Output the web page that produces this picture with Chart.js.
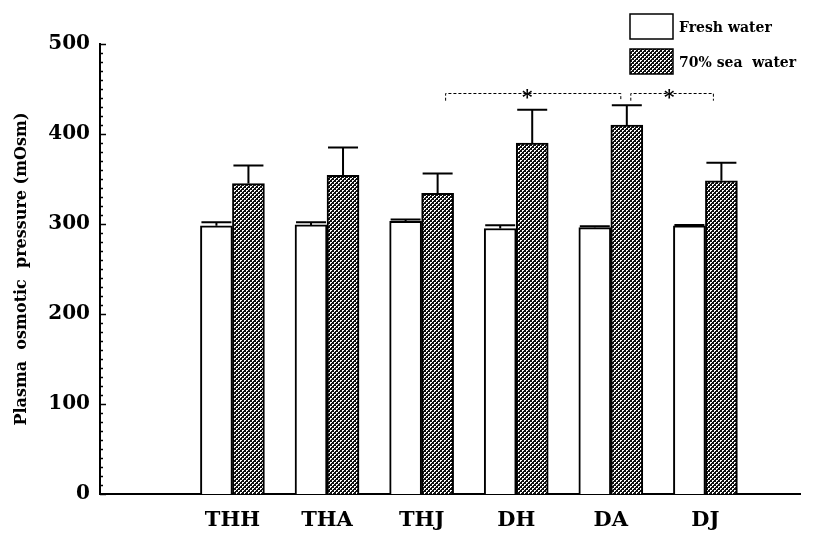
<!DOCTYPE html>
<html>
<head>
<meta charset="utf-8">
<script src="https://cdn.jsdelivr.net/npm/chart.js@4.4.1/dist/chart.umd.min.js"></script>
<style>
  html, body { margin: 0; padding: 0; background: #fff; }
  #wrap { width: 819px; height: 535px; }
</style>
</head>
<body>
<div id="wrap"><canvas id="chart"></canvas></div>
<script>
const CATEGORIES = ['THH', 'THA', 'THJ', 'DH', 'DA', 'DJ'];
const FRESH = [298, 299, 303, 295, 296, 298];
const FRESH_ERR = [4, 3, 2, 3.5, 1.5, 1];
const SEA = [345, 354, 334, 390, 410, 348];
const SEA_ERR = [20, 31, 22, 37, 22, 20];
const Y_MAX = 500;
const Y_STEP = 100;
const Y_MINOR = 10;
const SIG_PAIRS = [[2, 4], [4, 5]]; // sea-water bars compared
const SIG_LEVEL = 445;

const SERIF = '"DejaVu Serif", serif';

function makeHatch() {
  const c = document.createElement('canvas');
  c.width = 4; c.height = 4;
  const g = c.getContext('2d');
  g.fillStyle = '#111';
  g.fillRect(0, 0, 4, 4);
  g.fillStyle = '#fff';
  [[0, 0], [1, 0], [0, 1], [2, 2], [3, 2], [2, 3]].forEach(([x, y]) => g.fillRect(x, y, 1, 1));
  return g.createPattern(c, 'repeat');
}

const hatch = makeHatch();

// ================================================================
// plugins
// ================================================================

const errorBars = {
  id: 'errorBars',
  afterDatasetsDraw(chart) {
    const { ctx } = chart;
    const y = chart.scales.y;
    ctx.save();
    ctx.strokeStyle = '#000';
    ctx.lineWidth = 2;
    chart.data.datasets.forEach((ds, di) => {
      const meta = chart.getDatasetMeta(di);
      meta.data.forEach((bar, i) => {
        const top = y.getPixelForValue(ds.data[i].y + ds.err[i]);
        const half = bar.width / 2 - 1;
        ctx.beginPath();
        ctx.moveTo(bar.x, bar.y);
        ctx.lineTo(bar.x, top);
        ctx.moveTo(bar.x - half, top);
        ctx.lineTo(bar.x + half, top);
        ctx.stroke();
      });
    });
    ctx.restore();
  },
};

const axisTicks = {
  id: 'axisTicks',
  afterDraw(chart) {
    const { ctx } = chart;
    const y = chart.scales.y;
    ctx.save();
    ctx.strokeStyle = '#000';
    ctx.lineWidth = 1.5;
    for (let v = 0; v <= Y_MAX; v += Y_MINOR) {
      const py = Math.round(y.getPixelForValue(v)) + 0.5;
      const len = v % Y_STEP === 0 ? 6 : 3;
      ctx.beginPath();
      ctx.moveTo(y.right, py);
      ctx.lineTo(y.right + len, py);
      ctx.stroke();
    }
    ctx.restore();
  },
};

const significance = {
  id: 'significance',
  afterDraw(chart) {
    const { ctx } = chart;
    const y = chart.scales.y;
    const sea = chart.getDatasetMeta(1).data;
    const py = y.getPixelForValue(SIG_LEVEL);
    const drop = y.getPixelForValue(SIG_LEVEL - 8);
    ctx.save();
    ctx.strokeStyle = '#000';
    ctx.lineWidth = 1;
    ctx.setLineDash([3, 2]);
    SIG_PAIRS.forEach(([a, b], k) => {
      const x1 = sea[a].x + (k === 0 ? 8 : 4);
      const x2 = sea[b].x - (k === 0 ? 6 : 8);
      ctx.beginPath();
      ctx.moveTo(x1, drop);
      ctx.lineTo(x1, py);
      ctx.lineTo(x2, py);
      ctx.lineTo(x2, drop);
      ctx.stroke();
    });
    ctx.setLineDash([]);
    ctx.fillStyle = '#000';
    ctx.font = 'bold 20px ' + SERIF;
    ctx.textAlign = 'center';
    ctx.textBaseline = 'middle';
    SIG_PAIRS.forEach(([a, b]) => {
      const mid = (sea[a].x + sea[b].x) / 2;
      ctx.fillText('*', mid - 5, py + 5);
    });
    ctx.restore();
  },
};

const boxLegend = {
  id: 'boxLegend',
  afterDraw(chart) {
    const { ctx } = chart;
    ctx.save();
    ctx.font = 'bold 14px ' + SERIF;
    ctx.textBaseline = 'middle';
    chart.data.datasets.forEach((ds, i) => {
      const bx = 630, by = 14 + i * 35, bw = 43, bh = 25;
      ctx.fillStyle = ds.backgroundColor;
      ctx.fillRect(bx, by, bw, bh);
      ctx.strokeStyle = '#000';
      ctx.lineWidth = 1.5;
      ctx.strokeRect(bx, by, bw, bh);
      ctx.fillStyle = '#000';
      ctx.fillText(ds.label, bx + bw + 6, by + bh / 2 + 2);
    });
    ctx.restore();
  },
};

// ================================================================
// chart
// ================================================================

const toPoints = (vals) => vals.map((v, i) => ({ x: i + 1, y: v }));

new Chart(document.getElementById('chart'), {
  type: 'bar',
  data: {
    datasets: [
      {
        label: 'Fresh water',
        data: toPoints(FRESH),
        err: FRESH_ERR,
        backgroundColor: '#fff',
        borderColor: '#000',
        borderWidth: 2,
      },
      {
        label: '70% sea  water',
        data: toPoints(SEA),
        err: SEA_ERR,
        backgroundColor: hatch,
        borderColor: '#000',
        borderWidth: 2,
      },
    ],
  },
  options: {
    responsive: true,
    maintainAspectRatio: false,
    animation: false,
    barThickness: 32,
    layout: { padding: { top: 44, right: 19, left: 0, bottom: 0 } },
    plugins: { legend: { display: false }, tooltip: { enabled: false } },
    scales: {
      x: {
        type: 'linear',
        offset: false,
        min: -0.4,
        max: 7,
        grid: { display: false, drawTicks: false, offset: false },
        border: { display: true, color: '#000', width: 2 },
        afterBuildTicks: (scale) => { scale.ticks = CATEGORIES.map((c, i) => ({ value: i + 1 })); },
        afterFit: (scale) => { scale.height = 41; },
        ticks: {
          autoSkip: false,
          maxRotation: 0,
          padding: 14,
          color: '#000',
          font: { family: SERIF, size: 21, weight: 'bold' },
          callback: (v) => CATEGORIES[v - 1] || '',
        },
      },
      y: {
        min: 0,
        max: Y_MAX,
        grid: { display: false, drawTicks: false },
        border: { display: true, color: '#000', width: 2 },
        afterFit: (scale) => { scale.width = 100; },
        ticks: {
          stepSize: Y_STEP,
          padding: 10,
          color: '#000',
          font: { family: SERIF, size: 20, weight: 'bold' },
        },
        title: {
          display: true,
          text: 'Plasma  osmotic  pressure (mOsm)',
          color: '#000',
          padding: { top: 12, bottom: 0 },
          font: { family: SERIF, size: 16, weight: 'bold' },
        },
      },
    },
  },
  plugins: [errorBars, axisTicks, significance, boxLegend],
});
</script>
</body>
</html>
